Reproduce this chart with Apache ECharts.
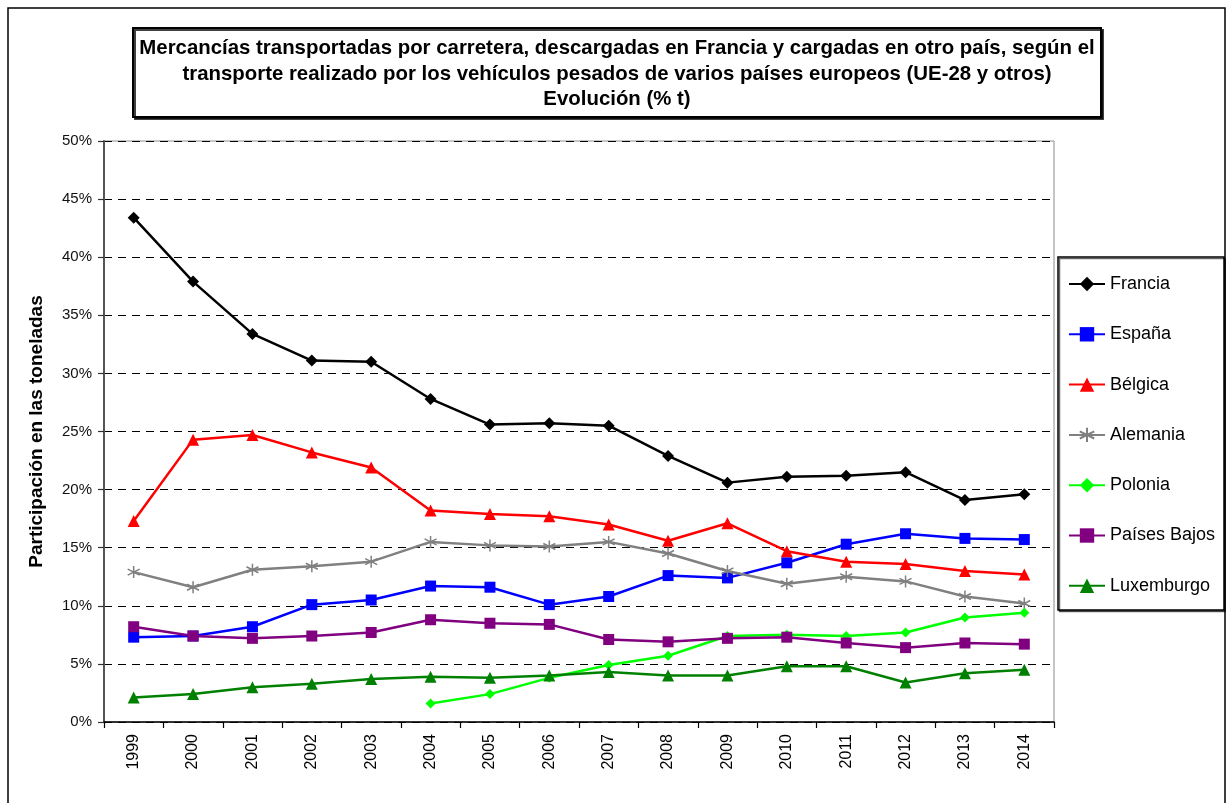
<!DOCTYPE html>
<html>
<head>
<meta charset="utf-8">
<title>Mercancías transportadas por carretera</title>
<script src="https://cdn.jsdelivr.net/npm/echarts@6/dist/echarts.min.js"></script>
<style>
  html, body { margin: 0; padding: 0; background: #fff; }
  #chart { width: 1226px; height: 803px; }
</style>
</head>
<body>
<div id="chart"></div>
<script>
// Years on the category axis
const years = ['1999', '2000', '2001', '2002', '2003', '2004', '2005', '2006',
               '2007', '2008', '2009', '2010', '2011', '2012', '2013', '2014'];

// Share of tonnes (%) by country of the heavy vehicle
const francia     = [43.4, 37.9, 33.4, 31.1, 31.0, 27.8, 25.6, 25.7, 25.5, 22.9, 20.6, 21.1, 21.2, 21.5, 19.1, 19.6];
const espana      = [7.3, 7.4, 8.2, 10.1, 10.5, 11.7, 11.6, 10.1, 10.8, 12.6, 12.4, 13.7, 15.3, 16.2, 15.8, 15.7];
const belgica     = [17.3, 24.3, 24.7, 23.2, 21.9, 18.2, 17.9, 17.7, 17.0, 15.6, 17.1, 14.7, 13.8, 13.6, 13.0, 12.7];
const alemania    = [12.9, 11.6, 13.1, 13.4, 13.8, 15.5, 15.2, 15.1, 15.5, 14.5, 13.0, 11.9, 12.5, 12.1, 10.8, 10.2];
const polonia     = [null, null, null, null, null, 1.6, 2.4, 3.8, 4.9, 5.7, 7.4, 7.5, 7.4, 7.7, 9.0, 9.4];
const paisesBajos = [8.2, 7.4, 7.2, 7.4, 7.7, 8.8, 8.5, 8.4, 7.1, 6.9, 7.2, 7.3, 6.8, 6.4, 6.8, 6.7];
const luxemburgo  = [2.1, 2.4, 3.0, 3.3, 3.7, 3.9, 3.8, 4.0, 4.3, 4.0, 4.0, 4.8, 4.8, 3.4, 4.2, 4.5];

// Value axis range (percent)
const yMin = 0, yMax = 50, yStep = 5;

const titleLines = [
  'Mercancías transportadas por carretera, descargadas en Francia y cargadas en otro país, según el',
  'transporte realizado por los vehículos pesados de varios países europeos (UE-28 y otros)',
  'Evolución (% t)'
];

const FONT = '"Liberation Sans", Arial, Helvetica, sans-serif';

// six-armed asterisk marker, drawn as strokes only
const ASTERISK = 'path://M10,0L10,20M1.34,5L18.66,15M1.34,15L18.66,5';

function lineSeries(name, data, color, symbol, size, extraItem) {
  return {
    name: name,
    type: 'line',
    data: data,
    symbol: symbol,
    symbolSize: size,
    connectNulls: false,
    lineStyle: { color: color, width: 2.5 },
    itemStyle: Object.assign({ color: color, borderWidth: 0 }, extraItem || {}),
    emphasis: { disabled: true },
    animation: false
  };
}

const chart = echarts.init(document.getElementById('chart'), null, { renderer: 'canvas' });

chart.setOption({
  backgroundColor: '#fff',
  textStyle: { fontFamily: FONT },
  graphic: [
    { // frame round the whole chart
      type: 'rect', z: -10, silent: true,
      shape: { x: 8, y: 8, width: 1217, height: 820 },
      style: { fill: '#fff', stroke: '#000', lineWidth: 1.5 }
    },
    { // title box
      type: 'rect', z: 5, silent: true,
      shape: { x: 133, y: 28, width: 968, height: 89 },
      style: { fill: '#fff', stroke: '#000', lineWidth: 2,
               shadowColor: 'rgba(0,0,0,0.75)', shadowOffsetX: 2, shadowOffsetY: 2, shadowBlur: 0 }
    },
    {
      type: 'text', z: 6, silent: true,
      style: {
        text: titleLines.join('\n'),
        x: 617, y: 36,
        align: 'center', verticalAlign: 'top',
        fontFamily: FONT, fontWeight: 'bold', fontSize: 20.4, lineHeight: 25.5,
        fill: '#000'
      }
    },
    { // legend box
      type: 'rect', z: 1, silent: true,
      shape: { x: 1058, y: 257, width: 166, height: 353 },
      style: { fill: '#fff', stroke: '#000', lineWidth: 1.5,
               shadowColor: 'rgba(0,0,0,0.6)', shadowOffsetX: 1.5, shadowOffsetY: 1.5, shadowBlur: 0 }
    }
  ],
  legend: {
    orient: 'vertical',
    left: 1063,
    top: 270,
    itemWidth: 36,
    itemHeight: 18,
    itemGap: 32.3,
    textStyle: { fontFamily: FONT, fontSize: 18, color: '#000' },
    selectedMode: false,
    z: 10
  },
  grid: {
    left: 104, top: 141, right: 172, bottom: 81,
    show: true, borderColor: '#8c8c8c', borderWidth: 1, backgroundColor: 'transparent',
    containLabel: false
  },
  xAxis: {
    type: 'category',
    data: years,
    boundaryGap: true,
    axisLine: { show: true, lineStyle: { color: '#000', width: 1.5 } },
    axisTick: { show: true, length: 6, lineStyle: { color: '#000', width: 1.2 } },
    axisLabel: { rotate: 90, fontSize: 16, margin: 12, color: '#000', fontFamily: FONT },
    splitLine: { show: false }
  },
  yAxis: {
    type: 'value',
    min: yMin, max: yMax, interval: yStep,
    name: 'Participación en las toneladas',
    nameLocation: 'middle',
    nameGap: 58,
    nameTextStyle: { fontFamily: FONT, fontSize: 19, fontWeight: 'bold', color: '#000' },
    axisLine: { show: true, lineStyle: { color: '#555', width: 2 } },
    axisTick: { show: true, length: 6, lineStyle: { color: '#333', width: 1.2 } },
    axisLabel: { fontSize: 15, margin: 12, color: '#111', fontFamily: FONT, formatter: '{value}%' },
    splitLine: { show: true, lineStyle: { color: '#000', width: 1, type: [8, 6] } }
  },
  series: [
    lineSeries('Francia', francia, '#000000', 'diamond', 12),
    lineSeries('España', espana, '#0000ff', 'rect', 11),
    lineSeries('Bélgica', belgica, '#ff0000', 'triangle', 12),
    lineSeries('Alemania', alemania, '#808080', ASTERISK, 12,
               { borderColor: '#808080', borderWidth: 1.5 }),
    lineSeries('Polonia', polonia, '#00ff00', 'diamond', 10),
    lineSeries('Países Bajos', paisesBajos, '#800080', 'rect', 11),
    lineSeries('Luxemburgo', luxemburgo, '#008000', 'triangle', 12)
  ]
});
</script>
</body>
</html>
